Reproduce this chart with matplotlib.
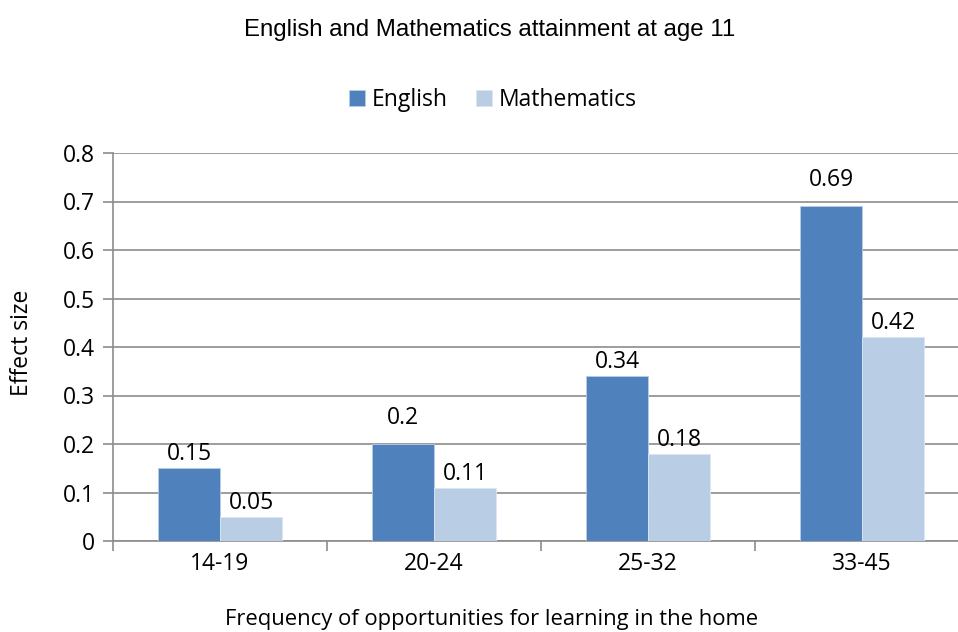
import matplotlib
matplotlib.use("Agg")
import matplotlib.pyplot as plt
import numpy as np

categories = ["14-19", "20-24", "25-32", "33-45"]
english = [0.15, 0.2, 0.34, 0.69]
maths = [0.05, 0.11, 0.18, 0.42]
english_label_gap = [14, 26, 14, 26]   # px between bar top and label centre
maths_label_gap = [14, 14, 14, 14]
label_font = "Open Sans"
fs = 16.5

fig = plt.figure(figsize=(9.58, 6.32), dpi=100)
W, H = 958, 632
left, right, top, bottom = 113, 969, 153, 541
ax = fig.add_axes([left / W, 1 - bottom / H, (right - left) / W, (bottom - top) / H])

x = np.arange(len(categories))
bw = 0.29
b1 = ax.bar(x - bw / 2, english, bw, color="#4F81BD", edgecolor="#B9CDE5", linewidth=0.6, label="English", zorder=3)
b2 = ax.bar(x + bw / 2, maths, bw, color="#B9CDE5", edgecolor="#DCE6F2", linewidth=0.6, label="Mathematics", zorder=3)

for bars, vals, gaps in ((b1, english, english_label_gap), (b2, maths, maths_label_gap)):
    for r, v, g in zip(bars, vals, gaps):
        ax.annotate(f"{v:g}", (r.get_x() + r.get_width() / 2, v), xytext=(0, g * 0.72),
                    textcoords="offset points", ha="center", va="center",
                    fontsize=fs, family=label_font, color="black")

ax.set_xlim(-0.5, len(categories) - 0.5)
ax.set_ylim(0, 0.8)
yt = np.arange(0, 0.81, 0.1).round(1)
ax.set_yticks(yt)
ax.set_yticklabels([f"{v:g}" for v in yt], family=label_font, fontsize=fs)
ax.yaxis.grid(True, color="#8C8C8C", linewidth=1.2, zorder=0)
ax.set_axisbelow(True)

ax.set_xticks(np.arange(-0.5, len(categories) - 0.5 + 0.01, 1.0))
ax.set_xticklabels([])
ax.set_xticks(x, minor=True)
ax.set_xticklabels(categories, minor=True, family=label_font, fontsize=fs)
ax.tick_params(axis="x", which="minor", length=0, pad=8)
ax.tick_params(axis="x", which="major", length=7, color="#8C8C8C", width=1.2)
ax.tick_params(axis="y", length=7, color="#8C8C8C", width=1.2, pad=6)

for s in ("top", "right"):
    ax.spines[s].set_visible(False)
ax.spines["left"].set_color("#8C8C8C")
ax.spines["left"].set_linewidth(1.2)
ax.spines["bottom"].set_color("#8C8C8C")
ax.spines["bottom"].set_linewidth(1.2)

fig.text(490 / W, 1 - 30 / H, "English and Mathematics attainment at age 11", ha="center", va="center",
         fontsize=17.3, family="Liberation Sans")
fig.text(22 / W, 1 - 343 / H, "Effect size", rotation=90, ha="center", va="center",
         fontsize=fs, family=label_font)
fig.text(492 / W, 1 - 619 / H, "Frequency of opportunities for learning in the home", ha="center", va="center",
         fontsize=15.8, family=label_font)

leg = fig.legend(handles=[b1, b2], loc="center", bbox_to_anchor=(493 / W, 1 - 100 / H), ncol=2,
                 frameon=False, prop={"family": label_font, "size": fs}, handlelength=0.7, handleheight=0.7,
                 handletextpad=0.3, columnspacing=1.2)

fig.savefig("out.png", dpi=100)
